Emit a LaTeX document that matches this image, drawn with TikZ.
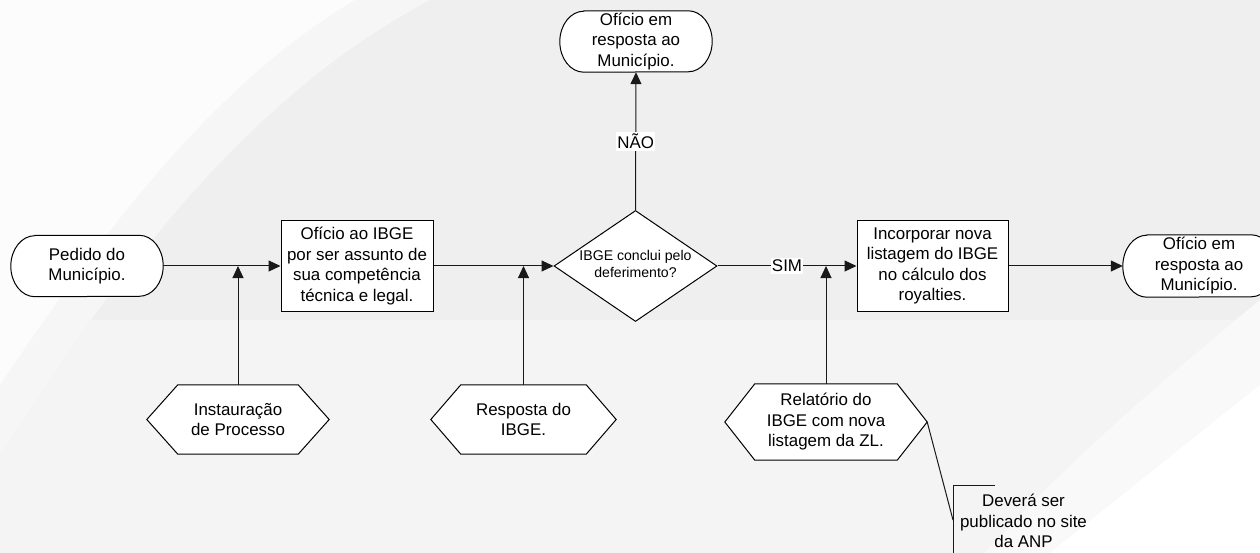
\documentclass[tikz,border=0pt]{standalone}
\usepackage{fontspec}
\setmainfont{Liberation Sans}
\usetikzlibrary{arrows.meta,shapes.geometric}
\pgfdeclarelayer{bg}
\pgfdeclarelayer{shp}
\pgfsetlayers{bg,shp,main}
\definecolor{bgmid}{HTML}{EFEFEF}
\definecolor{bglow}{HTML}{F4F4F4}
\definecolor{bglite}{HTML}{F6F6F6}
\definecolor{bgwhite}{HTML}{FCFCFC}
\definecolor{bgright}{HTML}{F9F9F9}
\begin{document}
\begin{tikzpicture}[x=1pt,y=-1pt,
  txt/.style={font=\fontsize{16.9}{20.5}\selectfont, align=center, inner sep=0pt, text=black},
  term/.style={txt, minimum width=152pt, minimum height=61pt},
  proc/.style={txt, draw=black, line width=1pt, fill=white, minimum width=152pt, minimum height=91pt},
  hexn/.style={txt, minimum height=69pt},
  dec/.style={diamond, draw=black, line width=1pt, fill=white, inner sep=0pt, minimum width=163pt, minimum height=111pt},
  conn/.style={line width=1pt, draw=black!90},
  arr/.style={conn, -{Triangle[length=12pt,width=11pt]}},
  lab/.style={txt, fill=white, inner xsep=1pt, inner ysep=2pt},
  shapepath/.style={line width=1pt, draw=black, fill=white}
]
\useasboundingbox (0,0) rectangle (1260,553);

% background
\begin{pgfonlayer}{bg}
\fill[bgmid] (0,0) rectangle (1260,553);
\fill[bglow] (0,320) rectangle (1260,553);
\fill[bglite] (0,0) -- (430,0) .. controls (260,90) and (130,250) .. (0,455) -- cycle;
\fill[bgwhite] (0,0) -- (355,0) .. controls (220,80) and (110,220) .. (0,385) -- cycle;
\fill[bgright] (1260,300) .. controls (1150,390) and (1060,470) .. (985,553) -- (1260,553) -- cycle;
\fill[white] (1260,385) -- (1050,553) -- (1260,553) -- cycle;
\end{pgfonlayer}

% nodes
\node[term] (pedido) at (87,266) {Pedido do\\Município.};
\node[proc] (oficio) at (357,266) {Ofício ao IBGE\\por ser assunto de\\sua competência\\técnica e legal.};
\node[dec] (decisao) at (635.5,266) {};
\node[txt, font=\fontsize{14.1}{17.5}\selectfont] (dectxt) at (635.5,264) {IBGE conclui pelo\\deferimento?};
\node[term] (resp1) at (636,41.5) {Ofício em\\resposta ao\\Município.};
\node[proc, minimum width=151pt, minimum height=90pt] (incorp) at (932.5,266) {Incorporar nova\\listagem do IBGE\\no cálculo dos\\royalties.};
\node[term, minimum height=62pt] (resp2) at (1199,266) {Ofício em\\resposta ao\\Município.};
\node[hexn, minimum width=182pt] (instaur) at (238,419.5) {Instauração\\de Processo};
\node[hexn, minimum width=185pt] (resposta) at (523.5,419.5) {Resposta do\\IBGE.};
\node[hexn, minimum width=202pt, minimum height=76pt] (relat) at (826,422) {Relatório do\\IBGE com nova\\listagem da ZL.};
\node[txt] (annot) at (1023.5,521) {Deverá ser\\publicado no site\\da ANP};

% shape outlines
\begin{pgfonlayer}{shp}
\foreach \n/\c in {instaur/31,resposta/30,relat/30}
  \draw[shapepath] (\n.west) -- ([xshift=\c pt]\n.north west) -- ([xshift=-\c pt]\n.north east)
    -- (\n.east) -- ([xshift=-\c pt]\n.south east) -- ([xshift=\c pt]\n.south west) -- cycle;
\foreach \n/\ry in {pedido/30.5,resp1/30.5,resp2/31}
  \draw[shapepath] ([xshift=24pt]\n.north west) -- ([xshift=-24pt]\n.north east)
    arc[start angle=-90, end angle=90, x radius=24, y radius=\ry]
    -- ([xshift=24pt]\n.south west)
    arc[start angle=90, end angle=270, x radius=24, y radius=\ry] -- cycle;
\end{pgfonlayer}

% connectors
\draw[arr] (pedido.east) -- (oficio.west);
\draw[arr] (instaur.north) -- (instaur.north |- pedido.east);
\draw[arr] (oficio.east) -- (decisao.west);
\draw[arr] (resposta.north) -- (resposta.north |- oficio.east);
\draw[arr] (decisao.north) -- node[lab] {NÃO} (resp1.south);
\draw[arr] (decisao.east) -- node[lab] {SIM} (incorp.west);
\draw[arr] (relat.north) -- (relat.north |- incorp.west);
\draw[arr] (incorp.east) -- (resp2.west);

% annotation
\coordinate (bktop) at (995,485);
\coordinate (bkc) at (953,485);
\coordinate (bkbot) at (953,560);
\coordinate (bkmid) at (953,520);
\draw[conn] (bktop) -- (bkc) -- (bkbot);
\draw[conn] (relat.east) -- (bkmid);
\end{tikzpicture}
\end{document}
